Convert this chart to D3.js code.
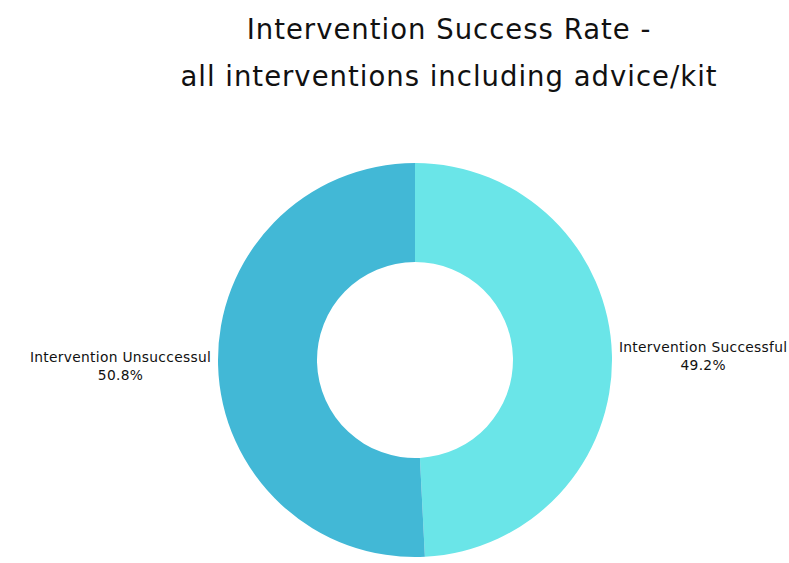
<!DOCTYPE html>
<html>
<head>
<meta charset="UTF-8">
<title>Intervention Success Rate</title>
<script src="https://d3js.org/d3.v7.min.js"></script>
<style>
  body { margin: 0; background: #fff; }
  text { font-family: "DejaVu Sans", sans-serif; fill: #111; }
</style>
</head>
<body>
<svg id="chart" width="789" height="563"></svg>
<script>
// data
const categories = ["Intervention Successful", "Intervention Unsuccessul"];
const values = [49.2, 50.8];
const colors = ["#6ae5e8", "#42b8d6"];
const titleLines = ["Intervention Success Rate -", "all interventions including advice/kit"];

const svg = d3.select("#chart");
const cx = 415, cy = 360, outerR = 197, innerR = 98;

// title
svg.selectAll(".title").data(titleLines).enter().append("text")
  .attr("class", "title")
  .attr("x", 449)
  .attr("y", (d, i) => 39 + i * 47)
  .attr("text-anchor", "middle")
  .style("font-size", "27.5px")
  .style("letter-spacing", "1px")
  .text(d => d);

const data = categories.map((c, i) => ({ name: c, value: values[i], color: colors[i] }));

const pie = d3.pie().value(d => d.value).sort(null);
const arc = d3.arc().innerRadius(innerR).outerRadius(outerR);
const arcs = pie(data);

const g = svg.append("g").attr("transform", `translate(${cx},${cy})`);

g.selectAll("path").data(arcs).enter().append("path")
  .attr("d", arc)
  .attr("fill", d => d.data.color);

// labels outside the ring
const labelArc = d3.arc().innerRadius(outerR + 7).outerRadius(outerR + 7);
arcs.forEach(a => {
  const [lx, ly] = labelArc.centroid(a);
  const right = lx > 0;
  const lg = g.append("g");
  const t1 = lg.append("text").style("font-size", "13.8px").style("letter-spacing", "0.3px")
    .attr("text-anchor", "middle").text(a.data.name);
  const t2 = lg.append("text").style("font-size", "13.8px").style("letter-spacing", "0.3px")
    .attr("text-anchor", "middle").text(a.data.value.toFixed(1) + "%");
  const w = Math.max(t1.node().getComputedTextLength(), t2.node().getComputedTextLength());
  const mx = right ? lx + w / 2 : lx - w / 2;
  t1.attr("x", mx).attr("y", ly - 3);
  t2.attr("x", mx).attr("y", ly + 15);
});
</script>
</body>
</html>
